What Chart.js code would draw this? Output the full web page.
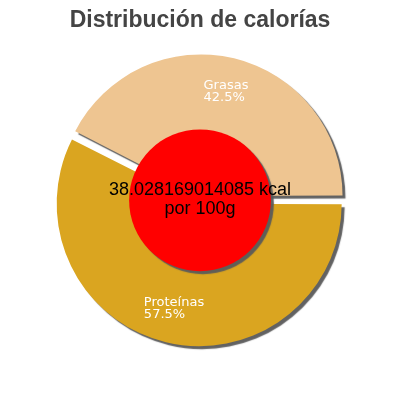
<!DOCTYPE html>
<html>
<head>
<meta charset="utf-8">
<script src="https://cdn.jsdelivr.net/npm/chart.js@4.4.1/dist/chart.umd.min.js"></script>
<style>
  html, body { margin: 0; padding: 0; background: #fff; }
  #wrap { width: 400px; height: 400px; }
</style>
</head>
<body>
<div id="wrap"><canvas id="myChart"></canvas></div>
<script>
const categorias = ['Proteínas', 'Grasas'];
const porcentajes = [57.5, 42.5];
const colores = ['#DAA520', '#EEC591'];
const kcal = '38.028169014085 kcal';
const porCantidad = 'por 100g';

const grafico = document.getElementById('myChart');

// Chart.js 4 aplica offset/4 * (1 + fix), se compensa para ~7px
const separacion = porcentajes.map(p => {
    const circ = p / 100 * Math.PI * 2;
    const fix = 1 - Math.sin(Math.min(Math.PI, circ));
    return 7 * 4 / (1 + fix);
});

// sombra gris para las porciones
const sombra = {
    id: 'sombra',
    beforeDatasetsDraw(chart) {
        const ctx = chart.ctx;
        ctx.save();
        ctx.shadowColor = 'rgba(90, 90, 90, 0.95)';
        ctx.shadowOffsetX = 3;
        ctx.shadowOffsetY = 3;
        ctx.shadowBlur = 1;
    },
    afterDatasetsDraw(chart) {
        chart.ctx.restore();
    }
};

// etiquetas, circulo rojo y texto central
const centro = {
    id: 'centro',
    afterDatasetsDraw(chart) {
        const ctx = chart.ctx;
        const meta = chart.getDatasetMeta(0);
        const ds = chart.data.datasets[0];

        ctx.save();
        ctx.font = '13px "DejaVu Sans", sans-serif';
        ctx.fillStyle = '#ffffff';
        ctx.textBaseline = 'middle';
        ctx.textAlign = 'left';
        meta.data.forEach((arc, i) => {
            const mid = (arc.startAngle + arc.endAngle) / 2;
            const circ = arc.endAngle - arc.startAngle;
            const fix = 1 - Math.sin(Math.min(Math.PI, circ));
            const off = ds.offset[i] / 4 * (1 + fix);
            const cx = arc.x + Math.cos(mid) * off;
            const cy = arc.y + Math.sin(mid) * off;
            const d = arc.outerRadius * 0.75;
            const lx = cx + Math.cos(mid) * d;
            const ly = cy + Math.sin(mid) * d;
            const l1 = chart.data.labels[i];
            const l2 = ds.data[i].toFixed(1) + '%';
            const w = Math.max(ctx.measureText(l1).width, ctx.measureText(l2).width);
            ctx.fillText(l1, lx - w / 2, ly - 6);
            ctx.fillText(l2, lx - w / 2, ly + 6);
        });
        ctx.restore();

        const arc0 = meta.data[0];
        const x = arc0.x, y = arc0.y;
        const r = arc0.outerRadius * 0.51;
        ctx.save();
        ctx.shadowColor = 'rgba(90, 90, 90, 0.95)';
        ctx.shadowOffsetX = 3;
        ctx.shadowOffsetY = 3;
        ctx.shadowBlur = 1;
        ctx.beginPath();
        ctx.arc(x, y, r, 0, Math.PI * 2);
        ctx.fillStyle = '#ff0000';
        ctx.fill();
        ctx.restore();

        ctx.save();
        ctx.font = '18px "Liberation Sans", Arial, sans-serif';
        ctx.fillStyle = '#000000';
        ctx.textAlign = 'center';
        ctx.textBaseline = 'middle';
        ctx.fillText(kcal, x, y - 10);
        ctx.fillText(porCantidad, x, y + 9);
        ctx.restore();
    }
};

const myChart = new Chart(grafico, {
    type: 'pie',
    data: {
        labels: categorias,
        datasets: [{
            data: porcentajes,
            backgroundColor: colores,
            borderWidth: 0,
            offset: separacion,
            radius: 139
        }]
    },
    options: {
        responsive: true,
        maintainAspectRatio: false,
        animation: false,
        rotation: 90,
        layout: { padding: { bottom: 42 } },
        plugins: {
            legend: { display: false },
            tooltip: { enabled: false },
            title: {
                display: true,
                text: 'Distribución de calorías',
                color: '#444444',
                font: { family: '"Liberation Sans", Arial, sans-serif', size: 23, weight: 'bold' },
                padding: { top: 7, bottom: 8 }
            }
        }
    },
    plugins: [sombra, centro]
});
</script>
</body>
</html>
